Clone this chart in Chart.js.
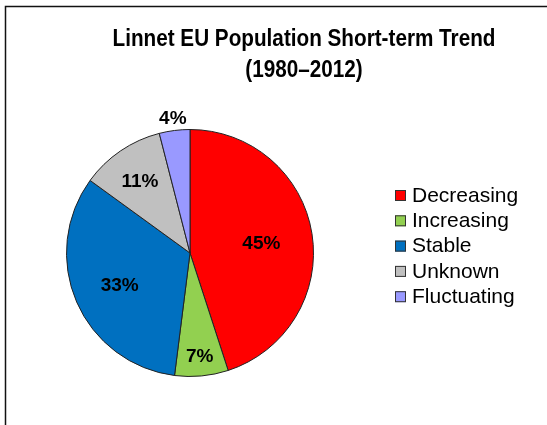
<!DOCTYPE html>
<html>
<head>
<meta charset="utf-8">
<script src="https://cdn.jsdelivr.net/npm/chart.js@4"></script>
<style>
    html, body { margin: 0; padding: 0; background: #fff; }
    #wrap { width: 547px; height: 425px; position: relative; }
</style>
</head>
<body>
<div id="wrap"><canvas id="trend-chart" width="547" height="425"></canvas></div>
<script>
const categories = ['Decreasing', 'Increasing', 'Stable', 'Unknown', 'Fluctuating'];
const shares = [45, 7, 33, 11, 4];
const sliceColors = ['#ff0000', '#92d050', '#0070c0', '#c0c0c0', '#9999ff'];
const titleLines = ['Linnet EU Population Short-term Trend', '(1980\u20132012)'];

// how far out each percentage label sits, as a fraction of the radius
const labelRadius = [0.585, 0.83, 0.62, 0.72, 1.11];

document.addEventListener('DOMContentLoaded', () => {
    const canvas = document.getElementById('trend-chart');

    const decorations = {
        id: 'decorations',
        afterDraw(chart) {
            const ctx = chart.ctx;
            ctx.save();

            // frame: top and left edge only
            ctx.strokeStyle = '#111';
            ctx.lineWidth = 1.5;
            ctx.beginPath();
            ctx.moveTo(5.5, 425);
            ctx.lineTo(5.5, 6.5);
            ctx.lineTo(547, 6.5);
            ctx.stroke();

            // title, squeezed like the narrow original
            ctx.fillStyle = '#000';
            ctx.textAlign = 'center';
            ctx.textBaseline = 'alphabetic';
            ctx.font = 'bold 23px "Liberation Sans", Arial, sans-serif';
            titleLines.forEach((line, i) => {
                ctx.save();
                ctx.translate(304, 46 + i * 31);
                ctx.scale(0.9, 1);
                ctx.fillText(line, 0, 0);
                ctx.restore();
            });

            // percentage labels
            const meta = chart.getDatasetMeta(0);
            ctx.font = 'bold 19px "Liberation Sans", Arial, sans-serif';
            ctx.textBaseline = 'middle';
            meta.data.forEach((arc, i) => {
                const p = arc.getProps(['x', 'y', 'startAngle', 'endAngle', 'outerRadius'], true);
                const mid = (p.startAngle + p.endAngle) / 2;
                const r = p.outerRadius * labelRadius[i];
                ctx.fillText(shares[i] + '%', p.x + Math.cos(mid) * r, p.y + Math.sin(mid) * r + 2);
            });

            // legend
            ctx.font = '21px "Liberation Sans", Arial, sans-serif';
            ctx.textAlign = 'left';
            categories.forEach((name, i) => {
                const y = 196 + i * 25.3;
                ctx.fillStyle = sliceColors[i];
                ctx.fillRect(395, y - 6, 11, 11);
                ctx.strokeStyle = '#333';
                ctx.lineWidth = 1;
                ctx.strokeRect(395.5, y - 5.5, 10, 10);
                ctx.fillStyle = '#000';
                ctx.fillText(name, 412, y);
            });

            ctx.restore();
        }
    };

    new Chart(canvas.getContext('2d'), {
        type: 'pie',
        data: {
            labels: categories,
            datasets: [{
                data: shares,
                backgroundColor: sliceColors,
                borderColor: '#222',
                borderWidth: 1
            }]
        },
        options: {
            responsive: false,
            animation: false,
            layout: {
                padding: { left: 66, top: 129, right: 233, bottom: 48 }
            },
            plugins: {
                legend: { display: false },
                title: { display: false },
                tooltip: { enabled: false }
            }
        },
        plugins: [decorations]
    });
});
</script>
</body>
</html>
